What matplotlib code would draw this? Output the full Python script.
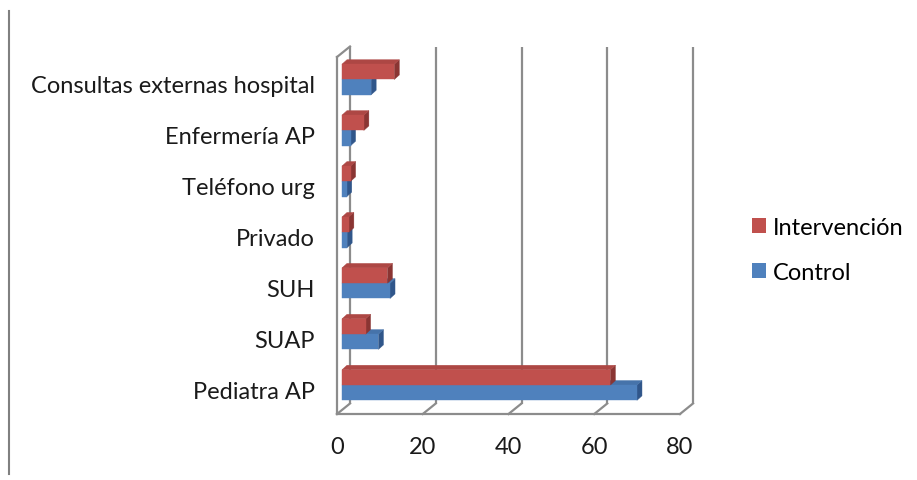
import numpy as np
import matplotlib
matplotlib.use("Agg")
import matplotlib.pyplot as plt
from matplotlib.patches import Polygon, Patch
from matplotlib.lines import Line2D

# data
categories = ["Pediatra AP", "SUAP", "SUH", "Privado", "Teléfono urg",
              "Enfermería AP", "Consultas externas hospital"]
control = [68.8, 8.5, 11.2, 1.2, 1.1, 2.0, 6.8]
intervencion = [62.6, 5.5, 10.6, 1.6, 2.0, 5.1, 12.2]
series_names = ["Intervención", "Control"]
xticks = [0, 20, 40, 60, 80]

W, H = 917, 481
plt.rcParams["font.family"] = ["Lato", "DejaVu Sans"]
FS = 17

fig = plt.figure(figsize=(W / 100, H / 100), dpi=100)
# front plane of the 3D box, in pixels
x0, x1, ytop, ybot = 337, 680, 58, 415
ax = fig.add_axes([x0 / W, 1 - ybot / H, (x1 - x0) / W, (ybot - ytop) / H])
ax.set_xlim(0, 80)
ax.set_ylim(-0.49, 6.52)
for s in ax.spines.values():
    s.set_visible(False)
ax.set_facecolor("none")

fig.canvas.draw()
p0 = ax.transData.transform((0, 0))
p1 = ax.transData.transform((1, 1))
ppx, ppy = p1 - p0  # pixels per data unit


def d(dx, dy):
    # pixel offset -> data offset
    return dx / ppx, -dy / ppy


grid_c = "#8c8c8c"
lw = 1.6
xlo, xhi = ax.get_xlim()
ylo, yhi = ax.get_ylim()
wdx, wdy = d(13, -10.5)  # depth of the box

# back gridlines
for t in xticks:
    ax.plot([t + wdx, t + wdx], [ylo + wdy, yhi + wdy], color=grid_c, lw=lw,
            clip_on=False, zorder=1, solid_capstyle="butt")
    # floor diagonal
    ax.plot([t, t + wdx], [ylo, ylo + wdy], color=grid_c, lw=lw, clip_on=False, zorder=1)
# floor front edge and left wall
ax.plot([xlo, xhi], [ylo, ylo], color=grid_c, lw=lw, clip_on=False, zorder=1)
ax.plot([xlo, xlo], [ylo, yhi], color=grid_c, lw=lw, clip_on=False, zorder=1)
ax.plot([xlo, xlo + wdx], [yhi, yhi + wdy], color=grid_c, lw=lw, clip_on=False, zorder=1)

# bars
h = 0.30
bdx, bdy = d(5, -4)    # bar front plane offset from box front
fdx, fdy = d(5, -4.5)  # bar depth
colors = {
    "Control": ("#4F81BD", "#4673AA", "#30568A"),
    "Intervención": ("#C0504D", "#AD4744", "#8A3533"),
}


def bar3d(v, yb, name, z):
    front, top, side = colors[name]
    xa, xb = bdx, v + bdx
    ya, yb2 = yb + bdy, yb + h + bdy
    faces = [
        ([(xb, ya), (xb + fdx, ya + fdy), (xb + fdx, yb2 + fdy), (xb, yb2)], side),
        ([(xa, yb2), (xb, yb2), (xb + fdx, yb2 + fdy), (xa + fdx, yb2 + fdy)], top),
        ([(xa, ya), (xb, ya), (xb, yb2), (xa, yb2)], front),
    ]
    for pts, c in faces:
        ax.add_patch(Polygon(pts, closed=True, facecolor=c, edgecolor=c,
                             lw=0.3, clip_on=False, zorder=z))


for i in range(len(categories)):
    bar3d(control[i], i - h, "Control", 3 + 2 * i)
    bar3d(intervencion[i], i, "Intervención", 4 + 2 * i)

# axis labels
ax.set_yticks(range(len(categories)))
ax.set_yticklabels(categories, fontsize=FS, color="#1a1a1a")
ax.tick_params(axis="y", length=0, pad=16)
ax.set_xticks(xticks)
ax.set_xticklabels([str(t) for t in xticks], fontsize=FS, color="#1a1a1a")
ax.tick_params(axis="x", length=0, pad=16)

# legend
handles = [Patch(facecolor=colors[n][0], edgecolor="none") for n in series_names]
fig.legend(handles, series_names, loc="center left", bbox_to_anchor=(740 / W, 1 - 251 / H),
           frameon=False, fontsize=FS, handlelength=0.6, handleheight=0.6,
           handletextpad=0.3, labelspacing=1.0, borderpad=0)

# thin border line at left of the picture
fig.add_artist(Line2D([9 / W, 9 / W], [1 - 475 / H, 1 - 12 / H], color="#808080", lw=1.5))

fig.savefig("out.png", dpi=100)
